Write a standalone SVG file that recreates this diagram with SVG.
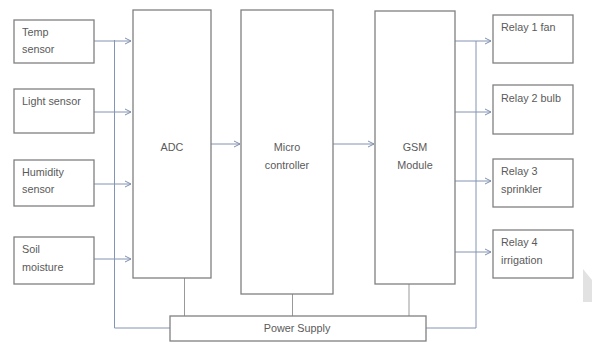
<svg xmlns="http://www.w3.org/2000/svg" width="592" height="345" viewBox="0 0 592 345">
<defs>
<marker id="arr" markerWidth="8" markerHeight="8" refX="7" refY="4" orient="auto" markerUnits="userSpaceOnUse">
<path d="M1,1 L7,4 L1,7" fill="none" stroke="#7f8fb0" stroke-width="1"/>
</marker>
<style>
.box{fill:#fff;stroke:#808080;stroke-width:1.3}
.t{font-family:"Liberation Sans",Arial,sans-serif;font-size:10.8px;fill:#5a5a5a}
.c{text-anchor:middle}
.ln{fill:none;stroke:#8494b4;stroke-width:1}
.pl{fill:none;stroke:#999;stroke-width:1}
</style>
</defs>
<rect width="592" height="345" fill="#fff"/>
<g id="connectors">
<path class="ln" d="M94,41 H131" marker-end="url(#arr)"/>
<path class="ln" d="M94,112 H131" marker-end="url(#arr)"/>
<path class="ln" d="M94,184 H131" marker-end="url(#arr)"/>
<path class="ln" d="M94,259 H131" marker-end="url(#arr)"/>
<path class="ln" d="M114.5,40 V328 H170"/>
<path class="ln" d="M211,144 H240" marker-end="url(#arr)"/>
<path class="ln" d="M333,144 H374" marker-end="url(#arr)"/>
<path class="ln" d="M455,41 H491" marker-end="url(#arr)"/>
<path class="ln" d="M455,112 H491" marker-end="url(#arr)"/>
<path class="ln" d="M455,181 H491" marker-end="url(#arr)"/>
<path class="ln" d="M455,252 H491" marker-end="url(#arr)"/>
<path class="ln" d="M476,41 V328 H426"/>
<path class="pl" d="M184.5,278 V316"/>
<path class="pl" d="M292.5,294 V316"/>
<path class="pl" d="M409,284 V316"/>
</g>
<g id="temp"><rect class="box" x="14" y="20" width="80" height="43"/><text class="t" x="22" y="36">Temp</text><text class="t" x="22" y="53">sensor</text></g>
<g id="light"><rect class="box" x="14" y="89" width="80" height="44"/><text class="t" x="22" y="105">Light sensor</text></g>
<g id="humidity"><rect class="box" x="14" y="160" width="80" height="46"/><text class="t" x="22" y="176">Humidity</text><text class="t" x="22" y="193">sensor</text></g>
<g id="soil"><rect class="box" x="14" y="237" width="80" height="47"/><text class="t" x="22" y="253">Soil</text><text class="t" x="22" y="271">moisture</text></g>
<g id="adc"><rect class="box" x="133" y="10" width="78" height="268"/><text class="t c" x="172" y="151">ADC</text></g>
<g id="micro"><rect class="box" x="241" y="10" width="92" height="284"/><text class="t c" x="287" y="151">Micro</text><text class="t c" x="287" y="169">controller</text></g>
<g id="gsm"><rect class="box" x="375" y="11" width="80" height="273"/><text class="t c" x="415" y="151">GSM</text><text class="t c" x="415" y="169">Module</text></g>
<g id="relay1"><rect class="box" x="493" y="15" width="80" height="48"/><text class="t" x="501" y="31">Relay 1 fan</text></g>
<g id="relay2"><rect class="box" x="493" y="85" width="80" height="49"/><text class="t" x="501" y="102">Relay 2 bulb</text></g>
<g id="relay3"><rect class="box" x="493" y="159" width="80" height="48"/><text class="t" x="501" y="175">Relay 3</text><text class="t" x="501" y="193">sprinkler</text></g>
<g id="relay4"><rect class="box" x="493" y="230" width="80" height="48"/><text class="t" x="501" y="246">Relay 4</text><text class="t" x="501" y="264">irrigation</text></g>
<g id="power"><rect class="box" x="170" y="316" width="256" height="25"/><text class="t c" x="297" y="332">Power Supply</text></g>
<polygon points="583,269 592,280 592,302 583,302" fill="#e2e2e2"/>
</svg>
